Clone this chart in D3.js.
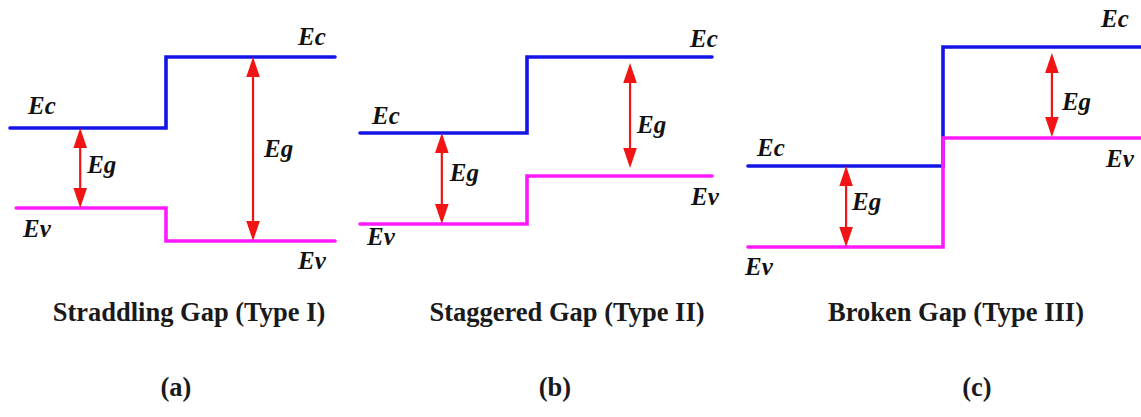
<!DOCTYPE html>
<html>
<head>
<meta charset="utf-8">
<script src="https://cdn.jsdelivr.net/npm/d3@7"></script>
<style>
  html, body { margin: 0; padding: 0; background: #fff; }
  svg { display: block; }
  .lbl { font-family: "Liberation Serif", "Times New Roman", serif; font-weight: bold; font-style: italic; font-size: 25px; fill: #111; }
  .ttl { font-family: "Liberation Serif", "Times New Roman", serif; font-weight: bold; font-size: 26.5px; fill: #1a1a1a; }
</style>
</head>
<body>
<script>
// Band alignment types at a heterojunction (energies in arbitrary units)
const panelIds   = ["(a)", "(b)", "(c)"];
const titles     = ["Straddling Gap (Type I)", "Staggered Gap (Type II)", "Broken Gap (Type III)"];
const ecLeft     = [152, 147, 114];   // conduction band edge, material A
const ecRight    = [223, 223, 233];   // conduction band edge, material B
const evLeft     = [72, 56, 33];      // valence band edge, material A
const evRight    = [39, 104, 142];    // valence band edge, material B
const bandLabels = ["Ec", "Ev", "Eg"];

const W = 1141, H = 417;
const svg = d3.select("body").append("svg").attr("width", W).attr("height", H);

// shared energy axis (no drawn axis, just the scale)
const y = d3.scaleLinear().domain([0, 250]).range([280, 30]);

// horizontal layout of each panel: material A spans [0,1], material B spans [1,2]
const layout = [
  { range: [10, 166, 335], evStart: 0.04, arrowA: 0.45, arrowB: 1.515, gapB: [0, 0], titleX: 189, idX: 176,
    lab: { ecL: [18, -14], ecR: [-37, -12], evL: [13, 29], evR: [-37, 28], egA: [7, 5], egB: [11, 8] } },
  { range: [360, 527, 712], evStart: 0, arrowA: 0.49, arrowB: 1.557, gapB: [6, 8], titleX: 567, idX: 555,
    lab: { ecL: [12, -9], ecR: [-22, -10], evL: [7, 21], evR: [-21, 29], egA: [8, 2.5], egB: [7, 16.5] } },
  { range: [748, 943, 1141], evStart: 0, arrowA: 0.503, arrowB: 1.55, gapB: [6, 1], titleX: 956, idX: 977,
    lab: { ecL: [9, -10], ecR: [-40, -20], evL: [-3, 28], evR: [-35, 29], egA: [6, 3.5], egB: [10, 17.5] } }
];

const blue = "#1414e6", magenta = "#ff19ff", red = "#f01414";
const headLen = 20, headHalf = 6.8;

function stepPath(x, x0, yl, yr) {
  const p = d3.path();
  p.moveTo(x(x0), y(yl));
  p.lineTo(x(1), y(yl));
  p.lineTo(x(1), y(yr));
  p.lineTo(x(2), y(yr));
  return p.toString();
}

function drawArrow(g, xp, yTop, yBot) {
  g.append("line")
    .attr("x1", xp).attr("x2", xp)
    .attr("y1", yTop + headLen - 2).attr("y2", yBot - headLen + 2)
    .attr("stroke", red).attr("stroke-width", 2.2);
  g.append("path")
    .attr("d", `M${xp},${yTop} L${xp - headHalf},${yTop + headLen} L${xp + headHalf},${yTop + headLen} Z`)
    .attr("fill", red);
  g.append("path")
    .attr("d", `M${xp},${yBot} L${xp - headHalf},${yBot - headLen} L${xp + headHalf},${yBot - headLen} Z`)
    .attr("fill", red);
}

panelIds.forEach((id, i) => {
  const L = layout[i];
  const x = d3.scaleLinear().domain([0, 1, 2]).range(L.range);
  const g = svg.append("g");

  // conduction band edge
  g.append("path").attr("d", stepPath(x, 0, ecLeft[i], ecRight[i]))
    .attr("fill", "none").attr("stroke", blue).attr("stroke-width", 3.6)
    .attr("stroke-linecap", "round").attr("stroke-linejoin", "miter");
  // valence band edge
  g.append("path").attr("d", stepPath(x, L.evStart, evLeft[i], evRight[i]))
    .attr("fill", "none").attr("stroke", magenta).attr("stroke-width", 3.6)
    .attr("stroke-linecap", "round").attr("stroke-linejoin", "miter");

  // band gap arrows
  const xa = x(L.arrowA), xb = x(L.arrowB);
  drawArrow(g, xa, y(ecLeft[i]), y(evLeft[i]));
  drawArrow(g, xb, y(ecRight[i]) + L.gapB[0], y(evRight[i]) - L.gapB[1]);

  // labels, anchored to the band edges and arrows
  const lab = L.lab;
  const put = (txt, px, py, off) =>
    g.append("text").attr("class", "lbl").attr("x", px + off[0]).attr("y", py + off[1]).text(txt);
  put(bandLabels[0], x(0), y(ecLeft[i]), lab.ecL);
  put(bandLabels[0], x(2), y(ecRight[i]), lab.ecR);
  put(bandLabels[1], x(0), y(evLeft[i]), lab.evL);
  put(bandLabels[1], x(2), y(evRight[i]), lab.evR);
  put(bandLabels[2], xa, (y(ecLeft[i]) + y(evLeft[i])) / 2, lab.egA);
  put(bandLabels[2], xb, (y(ecRight[i]) + y(evRight[i])) / 2, lab.egB);

  // captions
  svg.append("text").attr("class", "ttl").attr("x", L.titleX).attr("y", 321)
    .attr("text-anchor", "middle").text(titles[i]);
  svg.append("text").attr("class", "ttl").attr("x", L.idX).attr("y", 396)
    .attr("text-anchor", "middle").text(id);
});
</script>
</body>
</html>
